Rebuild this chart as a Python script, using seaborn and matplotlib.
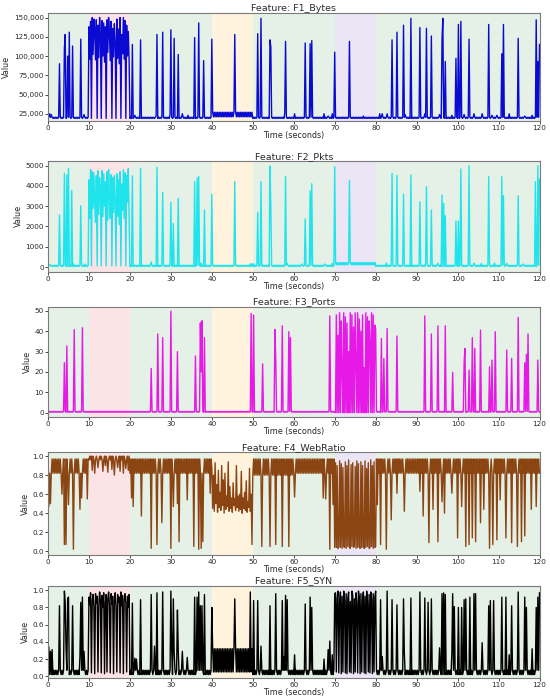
import numpy as np
import matplotlib
matplotlib.use("Agg")
import matplotlib.pyplot as plt
import seaborn as sns
from matplotlib.ticker import FuncFormatter, MultipleLocator

# ---------------- data ----------------
DT = 0.2
time = np.round(np.arange(0, 120 + DT / 2, DT), 1)

phase_start = [0, 10, 20, 40, 50, 70, 80]
phase_end = [10, 20, 40, 50, 70, 80, 120]
phase_color = ["#e5f1e6", "#fbe3e6", "#e5f1e6", "#fff3de", "#e5f1e6", "#ebe5f5", "#e5f1e6"]

titles = ["Feature: F1_Bytes", "Feature: F2_Pkts", "Feature: F3_Ports",
          "Feature: F4_WebRatio", "Feature: F5_SYN"]

# ---- F1 Bytes ----
f1_band_lo = [19000, 19000, 19000, 19000, 21000, 19000, 19000, 19000, 19000, 19000, 19000, 19000]
f1_band_hi = [20500, 20500, 20500, 20500, 27000, 20500, 20500, 20500, 20500, 20500, 20500, 20500]
f1_burst_start = 10.0
f1_burst = [138000, 96000, 145000, 19000, 150000, 102000, 148000, 132000, 95000, 147000,
            19000, 140000, 98000, 150000, 125000, 19000, 146000, 100000, 143000, 92000,
            138000, 19000, 147000, 105000, 150000, 130000, 94000, 145000, 19000, 136000,
            99000, 142000, 120000, 19000, 148000, 97000, 135000, 90000, 150000, 19000,
            128000, 103000, 150000, 96000, 146000, 19000, 140000, 100000, 132000, 95000]
f1_spk_t = [0.4, 0.8, 2.7, 4.0, 4.3, 4.8, 5.3, 6.0, 7.9, 8.8,
            20.7, 21.3, 22.6, 26.4, 26.6, 28.0, 29.8, 30.1, 30.7, 31.9, 32.8, 34.2, 35.8, 36.9, 38.0, 40.0,
            45.7, 51.3, 51.9, 54.2, 54.5, 57.8, 58.0, 60.2, 62.7, 63.9, 64.4, 67.4, 68.4, 69.4, 70.1, 73.7, 77.1,
            81.0, 81.6, 82.8, 84.1, 85.2, 86.7, 87.3, 88.6, 90.7, 92.0, 92.5, 93.6, 95.6, 96.2, 96.5, 97.1, 98.6,
            99.5, 100.3, 100.9, 101.5, 102.9, 104.0, 106.0, 107.6, 108.3, 109.5, 110.9, 111.2, 112.6, 114.9,
            116.5, 118.2, 119.2, 119.7, 120.0]
f1_spk_v = [25000, 24000, 90000, 110000, 128000, 100000, 131000, 113000, 122000, 24000,
            115000, 23000, 121000, 22000, 128000, 131000, 24000, 134000, 123000, 102000, 25000, 23000, 124000, 143000, 94000, 122000,
            128000, 129000, 149000, 121000, 112000, 25000, 119000, 25000, 117000, 116000, 120000, 25000, 22000, 25000, 105000, 119000, 22000,
            25000, 25000, 25000, 121000, 131000, 140000, 24000, 149000, 137000, 25000, 136000, 126000, 24000, 121000, 149000, 93000, 23000,
            97000, 141000, 145000, 24000, 122000, 25000, 25000, 141000, 23000, 23000, 103000, 141000, 25000, 123000,
            22000, 23000, 147000, 93000, 115000]

# ---- F2 Pkts ----
f2_band_lo = [30, 30, 30, 30, 30, 30, 30, 110, 30, 30, 30, 30]
f2_band_hi = [90, 90, 90, 90, 90, 90, 90, 220, 90, 90, 90, 90]
f2_burst_start = 10.0
f2_burst = [4300, 2400, 4800, 60, 4700, 2900, 4650, 3100, 2200, 4500,
            60, 4750, 2600, 4400, 3800, 60, 4750, 2500, 4600, 3000,
            4200, 60, 4700, 2300, 4800, 3500, 2400, 4550, 60, 4400,
            2700, 4500, 3300, 60, 4600, 2500, 4300, 2100, 4700, 60,
            4100, 2800, 4800, 2400, 4650, 60, 4500, 3200, 4850, 2300]
f2_spk_t = [0.5, 2.7, 4.0, 4.6, 5.1, 5.8, 6.3, 7.9, 9.0,
            20.7, 22.6, 25.3, 26.6, 28.0, 30.0, 30.6, 31.9, 35.8, 36.4, 36.8, 37.4, 38.2, 40.0, 45.7, 49.4, 49.8, 50.2,
            51.3, 51.9, 54.2, 54.5, 58.0, 58.5, 62.0, 62.7, 63.9, 64.4, 67.7, 69.4, 70.1, 73.7,
            82.6, 84.1, 85.2, 86.7, 88.6, 90.7, 92.2, 92.5, 93.6, 95.3, 96.2, 96.6, 97.1, 99.5, 100.3, 100.8,
            102.8, 104.0, 105.8, 107.6, 109.0, 110.9, 111.2, 112.0, 114.9, 116.0, 119.0, 119.7, 120.0]
f2_spk_v = [120, 2570, 4620, 4540, 4870, 3780, 150, 3020, 150,
            4500, 4870, 250, 4920, 3680, 3190, 2150, 3390, 4210, 4400, 4460, 200, 2810, 3590, 4210, 160, 170, 150,
            2700, 4210, 4980, 3030, 4460, 180, 150, 2370, 3750, 4110, 150, 180, 4950, 4260,
            200, 4620, 4510, 3590, 4540, 3220, 200, 3960, 2810, 180, 3550, 3140, 2530, 2270, 2270, 4840,
            5000, 200, 180, 4460, 200, 4460, 3520, 180, 3520, 150, 4210, 5000, 4340]

# ---- F3 Ports ----
f3_band_lo = [0.2] * 12
f3_band_hi = [0.6] * 12
f3_burst_start = 70.2
f3_burst = [0, 48, 0, 38, 0, 49, 0, 45, 20, 0,
            49, 0, 47, 0, 44, 0, 30, 0, 49, 0,
            48, 0, 42, 0, 49, 25, 0, 49, 0, 46,
            0, 40, 0, 48, 0, 22, 0, 49, 0, 47,
            0, 45, 35, 0, 49, 0, 48, 0, 43, 41]
f3_spk_t = [3.9, 4.6, 6.5, 8.5, 25.2, 26.7, 28.0, 30.0, 31.5, 36.1, 37.2, 37.4, 37.6, 38.3,
            49.6, 50.2, 52.5, 55.4, 55.7, 57.1, 58.8, 59.1, 68.8, 81.4, 82.0, 82.8, 85.2,
            92.1, 93.5, 95.2, 97.0, 98.9, 101.6, 101.8, 102.8, 103.7, 104.2, 105.6, 107.8, 108.5,
            109.3, 111.9, 113.2, 114.9, 116.4, 116.9, 117.2, 119.7]
f3_spk_v = [24.5, 32.7, 40.8, 41.7, 21.7, 38.6, 36.8, 49.8, 29.9, 27.8, 44.1, 20.0, 45.1, 36.8,
            48.7, 47.9, 23.9, 40.8, 26.6, 42.6, 39.7, 36.8, 47.5, 36.4, 26.6, 41.3, 37.6,
            47.5, 38.6, 42.6, 42.6, 19.8, 25.0, 31.5, 20.9, 36.8, 31.5, 40.5, 22.5, 25.8,
            39.7, 30.7, 26.6, 46.7, 24.5, 28.6, 38.6, 25.8]

# ---- F4 WebRatio ----
f4_band_lo = [0.82, 0.96, 0.82, 0.82, 0.45, 0.80, 0.82, 0.04, 0.82, 0.82, 0.82, 0.82]
f4_band_hi = [0.97, 1.00, 0.97, 0.97, 0.80, 0.97, 0.97, 0.90, 0.97, 0.97, 0.97, 0.97]
f4_mid_start = 40.0
f4_mid = [0.88, 0.45, 0.80, 0.42, 0.93, 0.50, 0.70, 0.41, 0.85, 0.46,
          0.62, 0.43, 0.90, 0.48, 0.75, 0.40, 0.82, 0.44, 0.58, 0.47,
          0.94, 0.42, 0.68, 0.45, 0.56, 0.41, 0.72, 0.48, 0.55, 0.43,
          0.90, 0.46, 0.58, 0.42, 0.60, 0.44, 0.84, 0.40, 0.56, 0.45,
          0.62, 0.43, 0.74, 0.41, 0.52, 0.46, 0.87, 0.42, 0.60, 0.44]
f4_burst_start = 70.2
f4_burst = [0.93, 0.04, 0.90, 0.03, 0.05, 0.95, 0.04, 0.92, 0.03, 0.88,
            0.05, 0.04, 0.94, 0.03, 0.90, 0.05, 0.96, 0.04, 0.03, 0.91,
            0.05, 0.93, 0.04, 0.06, 0.89, 0.03, 0.95, 0.04, 0.92, 0.05,
            0.03, 0.94, 0.04, 0.90, 0.05, 0.03, 0.95, 0.04, 0.87, 0.05,
            0.93, 0.03, 0.04, 0.96, 0.05, 0.90, 0.03, 0.94, 0.04, 0.05]
f4_spk_t = [0.2, 0.6, 3.4, 3.9, 4.5, 5.1, 6.3, 7.8, 8.2, 9.6,
            10.8, 11.4, 12.2, 13.4, 14.0, 14.6, 15.6, 16.2, 17.0, 17.6, 18.4, 19.0, 19.6,
            20.4, 20.8, 22.9, 25.3, 26.6, 27.8, 30.0, 30.6, 31.5, 32.0, 34.1, 35.7, 36.9, 37.4, 37.8, 39.6,
            49.8, 52.3, 54.2, 55.5, 57.1, 58.9, 60.2, 67.2, 67.8, 68.9, 69.5,
            80.5, 81.2, 82.6, 83.8, 85.3, 87.0, 90.7, 91.6, 93.0, 94.1, 95.2, 96.2, 96.8, 98.6, 99.9,
            101.1, 101.9, 102.7, 103.5, 104.4, 105.6, 106.4, 107.8, 108.6, 109.5, 110.4, 111.8,
            113.2, 114.6, 115.5, 116.4, 117.9, 119.2]
f4_spk_v = [0.47, 0.50, 0.60, 0.07, 0.07, 0.49, 0.02, 0.44, 0.56, 0.55,
            0.85, 0.82, 0.88, 0.84, 0.90, 0.83, 0.86, 0.80, 0.88, 0.84, 0.82, 0.87, 0.85,
            0.56, 0.47, 0.37, 0.03, 0.07, 0.30, 0.03, 0.47, 0.50, 0.10, 0.54, 0.05, 0.02, 0.03, 0.10, 0.61,
            0.07, 0.05, 0.05, 0.07, 0.05, 0.05, 0.57, 0.56, 0.55, 0.02, 0.49,
            0.49, 0.07, 0.02, 0.33, 0.61, 0.42, 0.63, 0.37, 0.09, 0.44, 0.10, 0.52, 0.40, 0.61, 0.14,
            0.47, 0.05, 0.07, 0.14, 0.10, 0.30, 0.44, 0.03, 0.07, 0.12, 0.54, 0.14,
            0.09, 0.05, 0.10, 0.16, 0.44, 0.47]

# ---- F5 SYN ----
f5_band_lo = [0.02, 0.02, 0.02, 0.02, 0.05, 0.02, 0.02, 0.02, 0.02, 0.02, 0.02, 0.02]
f5_band_hi = [0.07, 0.07, 0.07, 0.07, 0.32, 0.07, 0.07, 0.07, 0.07, 0.07, 0.07, 0.07]
f5_burst1_start = 10.0
f5_burst1 = [0.92, 0.83, 0.97, 0.04, 0.88, 0.95, 0.81, 0.03, 0.96, 0.85,
             0.93, 0.05, 0.82, 0.98, 0.87, 0.04, 0.94, 0.80, 0.97, 0.03,
             0.86, 0.95, 0.05, 0.90, 0.98, 0.83, 0.04, 0.96, 0.84, 0.93,
             0.03, 0.88, 0.97, 0.81, 0.05, 0.95, 0.86, 0.92, 0.04, 0.98,
             0.82, 0.94, 0.03, 0.89, 0.96, 0.85, 0.05, 0.93, 0.80, 0.95]
f5_burst2_start = 70.2
f5_burst2 = [0.97, 0.05, 0.90, 0.99, 0.04, 0.86, 0.98, 0.03, 0.93, 0.05,
             0.99, 0.88, 0.04, 0.96, 0.03, 0.91, 0.98, 0.05, 0.87, 0.04,
             0.99, 0.94, 0.03, 0.90, 0.05, 0.97, 0.85, 0.04, 0.99, 0.92,
             0.03, 0.96, 0.05, 0.89, 0.98, 0.04, 0.93, 0.03, 0.99, 0.87,
             0.05, 0.95, 0.04, 0.98, 0.90, 0.03, 0.96, 0.05, 0.92, 0.99]
f5_spk_t = [0.2, 0.6, 1.0, 2.7, 3.9, 4.2, 4.4, 4.7, 5.1, 6.0, 7.8, 8.0, 8.5, 8.8,
            20.7, 21.2, 21.5, 22.6, 25.3, 26.1, 26.6, 28.0, 30.0, 30.2, 30.6, 30.9, 31.5, 31.8, 32.8, 34.1,
            35.8, 36.4, 36.8, 37.3, 37.7, 38.2, 40.0,
            45.7, 49.4, 50.2, 51.3, 51.9, 54.3, 55.5, 57.1, 57.7, 58.0, 58.5, 60.2, 62.7, 64.1, 64.5,
            67.4, 68.4, 68.9, 69.4, 69.9,
            81.2, 81.6, 82.8, 84.0, 85.3, 86.8, 87.0, 88.6, 90.7, 92.0, 92.7, 93.7, 95.7, 96.3, 96.6, 97.0,
            98.6, 98.8, 99.3, 100.3, 101.0, 101.7, 101.9, 103.0, 103.9, 104.3, 105.9, 107.7, 108.1, 108.7,
            110.9, 111.8, 112.6, 113.2, 114.9, 116.4, 116.9, 118.2, 119.2, 119.7, 120.0]
f5_spk_v = [0.34, 0.29, 0.31, 0.82, 0.99, 0.86, 0.33, 0.90, 0.92, 0.82, 0.23, 0.86, 0.92, 0.29,
            0.85, 0.21, 0.20, 0.89, 0.95, 0.35, 0.97, 0.98, 0.99, 0.31, 0.90, 0.28, 0.77, 0.30, 0.29, 0.22,
            0.92, 0.92, 0.98, 0.82, 0.82, 0.95, 0.80,
            0.90, 0.98, 0.88, 0.88, 0.35, 0.82, 0.96, 0.88, 0.23, 0.94, 0.89, 0.25, 0.84, 0.92, 0.80,
            0.20, 0.31, 0.41, 0.25, 0.96,
            0.89, 0.23, 0.99, 0.89, 0.83, 0.90, 0.27, 0.91, 0.98, 0.91, 0.86, 0.90, 0.33, 0.96, 0.97, 0.95,
            0.27, 0.96, 0.81, 0.80, 0.80, 0.89, 0.90, 0.92, 0.96, 0.96, 0.39, 0.82, 0.88, 0.88,
            0.92, 0.92, 0.25, 0.82, 0.98, 0.92, 0.80, 0.32, 0.80, 0.92, 0.97]


# ---------------- build series from the lists ----------------
def build(band_lo, band_hi, blocks, spk_t, spk_v):
    seg = np.minimum((time // 10).astype(int), 11)
    lo = np.asarray(band_lo, dtype=float)[seg]
    hi = np.asarray(band_hi, dtype=float)[seg]
    y = np.where(np.arange(len(time)) % 2 == 0, lo, hi)
    for start, vals in blocks:
        i0 = int(round(start / DT))
        y[i0:i0 + len(vals)] = vals
    for ts, v in zip(spk_t, spk_v):
        y[int(round(ts / DT))] = v
    return y


series = [
    build(f1_band_lo, f1_band_hi, [(f1_burst_start, f1_burst)], f1_spk_t, f1_spk_v),
    build(f2_band_lo, f2_band_hi, [(f2_burst_start, f2_burst)], f2_spk_t, f2_spk_v),
    build(f3_band_lo, f3_band_hi, [(f3_burst_start, f3_burst)], f3_spk_t, f3_spk_v),
    build(f4_band_lo, f4_band_hi, [(f4_mid_start, f4_mid), (f4_burst_start, f4_burst)], f4_spk_t, f4_spk_v),
    build(f5_band_lo, f5_band_hi, [(f5_burst1_start, f5_burst1), (f5_burst2_start, f5_burst2)], f5_spk_t, f5_spk_v),
]

line_colors = ["#0a0ad2", "#1fe4ec", "#e619e6", "#8b4513", "#000000"]
ylims = [(16000, 155500), (-230, 5230), (-2, 52), (-0.04, 1.04), (-0.02, 1.055)]
ysteps = [25000, 1000, 10, 0.2, 0.2]
ystarts = [25000, 0, 0, 0, 0]

# ---------------- figure ----------------
W, H = 550, 697
fig = plt.figure(figsize=(W / 100, H / 100), dpi=100)
ax_left = 48 / W
ax_width = (539.5 - 48) / W
tops_px = [13.3, 161.0, 306.7, 452.3, 585.5]
bottoms_px = [120.7, 271.7, 416.7, 555.0, 678.0]

text_color = "#2a2a2a"
spine_color = "#7a7a7a"

for k in range(5):
    b = 1 - bottoms_px[k] / H
    h = (bottoms_px[k] - tops_px[k]) / H
    ax = fig.add_axes([ax_left, b, ax_width, h])
    for s, e, c in zip(phase_start, phase_end, phase_color):
        ax.axvspan(s, e, color=c, lw=0, zorder=0)
    sns.lineplot(x=time, y=series[k], ax=ax, color=line_colors[k], linewidth=1.0,
                 estimator=None, zorder=2)
    ax.set_xlim(0, 120)
    ax.xaxis.set_major_locator(MultipleLocator(10))
    yt = np.arange(ystarts[k], ylims[k][1] + 1e-9, ysteps[k])
    ax.set_yticks(yt)
    if k == 0:
        ax.yaxis.set_major_formatter(FuncFormatter(lambda v, p: f"{v:,.0f}"))
    elif k >= 3:
        ax.yaxis.set_major_formatter(FuncFormatter(lambda v, p: f"{v:.1f}"))
    ax.set_ylim(*ylims[k])
    ax.set_title(titles[k], fontsize=6.8, pad=1.5, color=text_color)
    ax.set_xlabel("Time (seconds)", fontsize=5.8, labelpad=0, color=text_color)
    ax.set_ylabel("Value", fontsize=5.8, labelpad=2, color=text_color)
    ax.tick_params(axis="both", labelsize=5.2, length=2.2, width=0.6, pad=0.8,
                   colors=text_color)
    for sp in ax.spines.values():
        sp.set_color(spine_color)
        sp.set_linewidth(0.8)

fig.savefig("out.png", dpi=100)
